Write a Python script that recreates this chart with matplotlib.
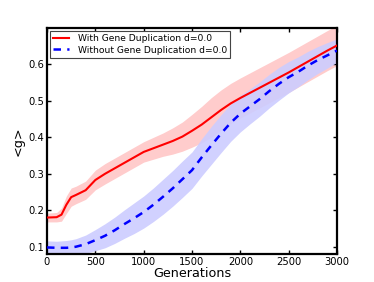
import matplotlib
matplotlib.use('Agg')
import matplotlib.pyplot as plt
import numpy as np

gens = [0, 100, 150, 200, 250, 300, 400, 500, 600, 700, 800, 900, 1000, 1100, 1200, 1300, 1400, 1500,
        1600, 1700, 1800, 1900, 2000, 2100, 2200, 2300, 2400, 2500, 2600, 2700, 2800, 2900, 3000]

# mean <g> with gene duplication, and half-width of its shaded band
with_dup = [0.180, 0.181, 0.188, 0.215, 0.236, 0.242, 0.255, 0.283, 0.300, 0.315, 0.330, 0.345,
            0.360, 0.370, 0.380, 0.390, 0.402, 0.418, 0.435, 0.455, 0.475, 0.493, 0.508, 0.522,
            0.536, 0.550, 0.564, 0.578, 0.593, 0.608, 0.623, 0.638, 0.652]
with_dup_err = [0.012, 0.013, 0.018, 0.024, 0.025, 0.024, 0.025, 0.027, 0.028, 0.028, 0.028, 0.028,
                0.028, 0.030, 0.032, 0.036, 0.040, 0.045, 0.050, 0.054, 0.055, 0.055, 0.055, 0.055,
                0.055, 0.055, 0.055, 0.055, 0.055, 0.055, 0.055, 0.055, 0.055]

# mean <g> without gene duplication, and half-width of its shaded band
without_dup = [0.098, 0.097, 0.097, 0.097, 0.098, 0.100, 0.107, 0.118, 0.130, 0.145, 0.162, 0.178,
               0.195, 0.215, 0.237, 0.260, 0.285, 0.310, 0.345, 0.378, 0.410, 0.440, 0.465, 0.485,
               0.505, 0.527, 0.547, 0.565, 0.580, 0.597, 0.612, 0.625, 0.638]
without_dup_err = [0.018, 0.018, 0.019, 0.020, 0.021, 0.022, 0.025, 0.029, 0.033, 0.036, 0.039, 0.042,
                   0.044, 0.046, 0.048, 0.049, 0.050, 0.050, 0.051, 0.052, 0.052, 0.051, 0.050, 0.048,
                   0.047, 0.046, 0.045, 0.043, 0.041, 0.039, 0.037, 0.035, 0.032]

x = np.array(gens)
r = np.array(with_dup); re = np.array(with_dup_err)
b = np.array(without_dup); be = np.array(without_dup_err)

fig = plt.figure(figsize=(3.74, 2.82), dpi=100)
ax = fig.add_axes([47/374, 28/282, 290/374, 226/282])

ax.fill_between(x, r - re, r + re, color='#ffcccc', linewidth=0, zorder=1)
ax.fill_between(x, b - be, b + be, color='#ccccff', alpha=0.9, linewidth=0, zorder=2)
ax.plot(x, r, color='red', linewidth=1.5, label='With Gene Duplication d=0.0', zorder=3)
ax.plot(x, b, color='blue', linewidth=1.8, linestyle='--', dashes=(3, 2.5),
        label='Without Gene Duplication d=0.0', zorder=4)

ax.set_xlim(0, 3000)
ax.set_ylim(0.08, 0.70)
ax.set_xticks(np.arange(0, 3001, 500))
ax.set_yticks([0.1, 0.2, 0.3, 0.4, 0.5, 0.6])
ax.tick_params(direction='in', top=True, right=True, labelsize=7.2, length=3, width=1, pad=2)
for s in ax.spines.values():
    s.set_linewidth(1.6)

ax.set_xlabel('Generations', fontsize=9.2, labelpad=0)
ax.set_ylabel('<g>', fontsize=9.2, labelpad=3)

leg = ax.legend(loc='upper left', fontsize=6.6, fancybox=False, handlelength=1.7,
                handletextpad=1.0, borderpad=0.35, labelspacing=0.3, borderaxespad=0.3)
leg.get_frame().set_edgecolor('#444444')
leg.get_frame().set_linewidth(0.8)
leg.get_frame().set_alpha(1)

fig.savefig('out.png', dpi=100)
